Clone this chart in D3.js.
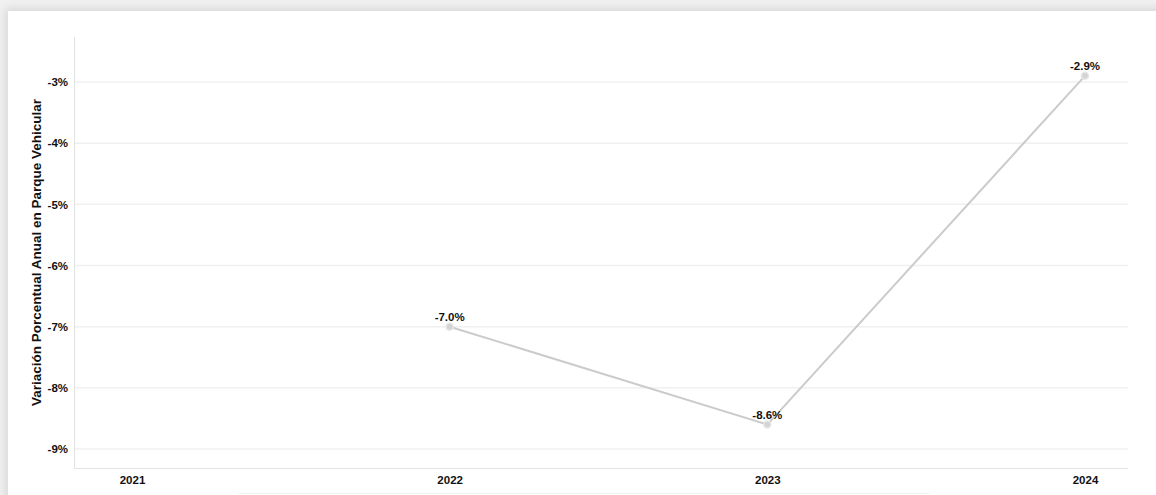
<!DOCTYPE html>
<html><head><meta charset="utf-8">
<script src="https://cdn.jsdelivr.net/npm/d3@7"></script>
<style>
html,body{margin:0;padding:0;width:1156px;height:495px;overflow:hidden;background:#f1f1f1;}
#card{position:absolute;left:8px;top:11px;width:1160px;height:500px;background:#fff;box-shadow:0 0 9px 3px rgba(0,0,0,0.10);}
svg{position:absolute;left:0;top:0;}
</style></head>
<body>
<div id="card"></div>
<svg id="chart" width="1156" height="495"></svg>
<script>
const years = ["2021","2022","2023","2024"];
const values = [null, -7.0, -8.6, -2.9];
const yTicks = [-3,-4,-5,-6,-7,-8,-9];
const yTitle = "Variación Porcentual Anual en Parque Vehicular";

const svg = d3.select("#chart");
const font = "Arial, 'Liberation Sans', sans-serif";
const plot = {left:74, right:1128, top:37, bottom:468};

const x = d3.scalePoint().domain(years).range([132,1085]);
const y = d3.scaleLinear().domain([-9.31,-2.265]).range([plot.bottom, plot.top]);

// gridlines
svg.append("g").selectAll("line").data(yTicks).join("line")
  .attr("x1", plot.left).attr("x2", plot.right)
  .attr("y1", d=>y(d)).attr("y2", d=>y(d))
  .attr("stroke","#f0f0f0").attr("stroke-width",1.5);

// y axis
const yAxis = svg.append("g").attr("transform",`translate(${plot.left},0)`)
  .call(d3.axisLeft(y).tickValues(yTicks).tickSize(0).tickPadding(6).tickFormat(d=>d+"%"));
yAxis.select(".domain").attr("stroke","#e2e2e2").attr("d",`M0.5,${plot.top}V${plot.bottom}`);
yAxis.selectAll("text").attr("font-family",font).attr("font-size",11.5).attr("font-weight","bold").attr("fill","#111");

// x axis
const xAxis = svg.append("g").attr("transform",`translate(0,${plot.bottom})`)
  .call(d3.axisBottom(x).tickSize(0).tickPadding(8));
xAxis.select(".domain").attr("stroke","#e2e2e2").attr("d",`M${plot.left},0.5H${plot.right}`);
xAxis.selectAll("text").attr("font-family",font).attr("font-size",11.5).attr("font-weight","bold").attr("fill","#111");

// y title
svg.append("text")
  .attr("transform",`translate(41,${(plot.top+plot.bottom)/2}) rotate(-90)`)
  .attr("text-anchor","middle")
  .attr("font-family",font).attr("font-size",13.5).attr("font-weight","bold").attr("fill","#111")
  .text(yTitle);

const data = years.map((yr,i)=>({yr, v:values[i]})).filter(d=>d.v!==null);

svg.append("path").datum(data)
  .attr("fill","none").attr("stroke","#cbcbcb").attr("stroke-width",2)
  .attr("d", d3.line().x(d=>x(d.yr)).y(d=>y(d.v)));

svg.append("g").selectAll("circle").data(data).join("circle")
  .attr("cx",d=>x(d.yr)).attr("cy",d=>y(d.v)).attr("r",3.5)
  .attr("fill","#d4d4d4").attr("stroke","#e6e6e6").attr("stroke-width",1.5);

svg.append("g").selectAll("text").data(data).join("text")
  .attr("x",d=>x(d.yr)).attr("y",d=>y(d.v)-6)
  .attr("text-anchor","middle")
  .attr("font-family",font).attr("font-size",11.5).attr("font-weight","bold").attr("fill","#111")
  .text(d=>d.v.toFixed(1)+"%");

// faint bottom line
svg.append("line").attr("x1",238).attr("x2",930).attr("y1",493.5).attr("y2",493.5)
  .attr("stroke","#f3f3f3").attr("stroke-width",1);
</script>
</body></html>
